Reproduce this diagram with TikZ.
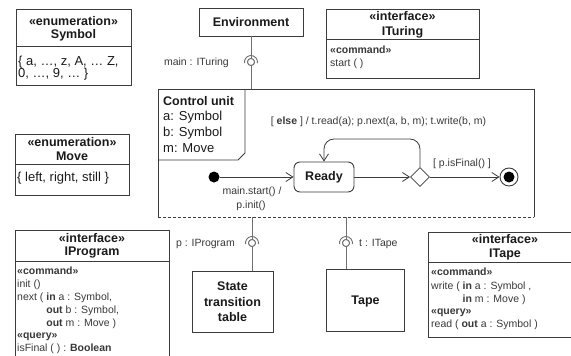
\documentclass[tikz,border=0pt]{standalone}
\usepackage{fontspec}
\setmainfont{Liberation Sans}
\usetikzlibrary{shapes.geometric,arrows.meta}
\definecolor{lineC}{HTML}{3C3C3C}
\definecolor{connC}{HTML}{707070}
\definecolor{txtC}{HTML}{1A1A1A}
\definecolor{lblC}{HTML}{383838}
\begin{document}
\begin{tikzpicture}[x=1pt,y=-1pt,
  box/.style={draw=lineC, line width=0.9pt, inner sep=0pt, outer sep=0pt, anchor=north west},
  divider/.style={draw=lineC, line width=0.9pt},
  ttl/.style={font=\fontsize{12.5}{14}\selectfont\bfseries, text=txtC, inner sep=0pt, text height=11.5pt, text depth=2.5pt},
  big/.style={font=\fontsize{13}{15}\selectfont, text=txtC, inner sep=0pt, anchor=west, text height=12pt, text depth=2.6pt},
  op/.style={font=\fontsize{10.5}{12}\selectfont, text=lblC, inner sep=0pt, anchor=west, text height=9.7pt, text depth=2.1pt},
  kw/.style={op, font=\fontsize{10.5}{12}\selectfont\bfseries},
  lbl/.style={font=\fontsize{10.5}{12}\selectfont, text=lblC, inner sep=0pt, text height=9.7pt, text depth=2.1pt},
  conn/.style={draw=connC, line width=0.9pt},
  ballnode/.style={circle, draw=connC, line width=0.9pt, fill=white, minimum size=7pt, inner sep=0pt},
  trans/.style={draw=lineC, line width=0.8pt, -{Straight Barb[length=7pt,width=9pt]}},
]
\useasboundingbox (0,0) rectangle (571,356);
\path[clip] (0,0) rectangle (571,356);

% ---- enumeration Symbol
\node[box, minimum width=115pt, minimum height=76pt] (sym) at (16,9) {};
\draw[divider] (sym.west |- 0,46) -- (sym.east |- 0,46);
\node[ttl] (symst) at (73.5,21) {«enumeration»};
\node[ttl] (symnm) at (73.5,34) {Symbol};
\node[big] (symv1) at (18,61) {\{ a, …, z, A, … Z,};
\node[big] (symv2) at (18,73) {0, …, 9, … \}};

% ---- enumeration Move
\node[box, minimum width=114pt, minimum height=61pt] (mov) at (15,134) {};
\draw[divider] (mov.west |- 0,164) -- (mov.east |- 0,164);
\node[ttl] (movst) at (72,142) {«enumeration»};
\node[ttl] (movnm) at (72,156) {Move};
\node[big] (movv) at (17,177) {\{ left, right, still \}};

% ---- Environment
\node[box, minimum width=104pt, minimum height=28pt] (env) at (199,8) {};
\node[ttl] (envt) at (env.center) {Environment};

% ---- interface ITuring
\node[box, minimum width=153pt, minimum height=69pt] (itu) at (326,9) {};
\draw[divider] (itu.west |- 0,39) -- (itu.east |- 0,39);
\node[ttl] (itust) at (402.5,16) {«interface»};
\node[ttl] (itunm) at (402.5,31) {ITuring};
\node[kw] (itucmd) at (330,50) {«command»};
\node[op] (itustart) at (330,63) {start ( )};

% ---- Control unit
\node[inner sep=0pt, outer sep=0pt, anchor=north west, minimum width=376pt, minimum height=128pt] (cu) at (158,89) {};
\draw[lineC, line width=0.9pt] (cu.south west) -- (cu.north west) -- (cu.north east) -- (cu.south east);
\draw[lineC, line width=0.9pt, dash pattern=on 3pt off 2pt] (cu.south west) -- (cu.south east);
\draw[lineC, line width=0.9pt] (245,89) -- (245,153) -- (238,160) -- (158,160);
\node[ttl, anchor=west] (cut) at (163,101) {Control unit};
\node[big] (cua) at (163,116) {a: Symbol};
\node[big] (cub) at (163,132) {b: Symbol};
\node[big] (cum) at (163,148) {m: Move};

% ---- state machine
\node[circle, fill=black, minimum size=11pt, inner sep=0pt] (init) at (214,177) {};
\node[draw=lineC, line width=0.9pt, rounded corners=6pt, minimum width=60pt, minimum height=30pt, inner sep=0pt,
      font=\fontsize{12.5}{14}\selectfont\bfseries, text=txtC] (ready) at (324,177) {Ready};
\node[diamond, draw=lineC, line width=0.8pt, fill=white, minimum width=19pt, minimum height=19pt, inner sep=0pt] (dec) at (420,177) {};
\node[circle, draw=lineC, line width=0.9pt, minimum size=18pt, inner sep=0pt] (fin) at (509,177) {};
\node[circle, fill=black, minimum size=11pt, inner sep=0pt] (fincore) at (fin.center) {};
\coordinate (looptop) at (0,139);
\draw[trans] (init) -- (ready);
\draw[trans] (ready) -- (dec);
\draw[trans] (dec) -- (fin);
\draw[trans, rounded corners=10pt] (dec.north) -- (dec.north |- looptop) -- (ready.north |- looptop) -- (ready.north);
\node[lbl] (guard) at (378.5,121) {[ \textbf{else} ] / t.read(a); p.next(a, b, m); t.write(b, m)};
\node[lbl] (gfinal) at (462,163) {[ p.isFinal() ]};
\node[lbl] (trig1) at (252,191) {main.start() /};
\node[lbl] (trig2) at (251,205) {p.init()};

% ---- interface IProgram
\node[box, minimum width=154pt, minimum height=150pt] (ipr) at (15,230) {};
\draw[divider] (ipr.west |- 0,261) -- (ipr.east |- 0,261);
\node[ttl] (iprst) at (92,238) {«interface»};
\node[ttl] (iprnm) at (92,251) {IProgram};
\node[kw] (iprc) at (17,271) {«command»};
\node[op] (ipr1) at (17,284) {init ()};
\node[op] (ipr2) at (17,297) {next ( \textbf{in} a : Symbol,};
\node[op] (ipr3) at (17,310) {\phantom{next ( }\textbf{out} b : Symbol,};
\node[op] (ipr4) at (17,323) {\phantom{next ( }\textbf{out} m : Move )};
\node[kw] (iprq) at (17,335) {«query»};
\node[op] (ipr5) at (17,348) {isFinal ( ) : \textbf{Boolean}};

% ---- State transition table
\node[box, minimum width=81pt, minimum height=61pt] (stt) at (192,271) {};
\node[ttl] (stt1) at (232.5,286) {State};
\node[ttl] (stt2) at (232.5,302) {transition};
\node[ttl] (stt3) at (232.5,317) {table};

% ---- Tape
\node[box, minimum width=78pt, minimum height=62pt] (tape) at (326.5,269) {};
\node[ttl] (tapet) at (tape.center) {Tape};

% ---- interface ITape
\node[box, minimum width=154pt, minimum height=105pt] (ita) at (428,232) {};
\draw[divider] (ita.west |- 0,262) -- (ita.east |- 0,262);
\node[ttl] (itast) at (505,239) {«interface»};
\node[ttl] (itanm) at (505,253) {ITape};
\node[kw] (itac) at (431,272) {«command»};
\node[op] (ita1) at (431,286) {write ( \textbf{in} a : Symbol ,};
\node[op] (ita2) at (431,299) {\phantom{write ( }\textbf{in} m : Move )};
\node[kw] (itaq) at (431,311) {«query»};
\node[op] (ita3) at (431,324) {read ( \textbf{out} a : Symbol )};

% ---- assembly connectors (ball and socket)
\node[ballnode] (s1) at (251,62) {};
\node[ballnode] (s2) at (252,243) {};
\node[ballnode] (s3) at (346,243) {};
\draw[conn] (env.south -| s1) -- (s1) -- (s1 |- cu.north);
\draw[conn] (s2 |- cu.south) -- (s2) -- (s2 |- stt.north);
\draw[conn] (s3 |- cu.south) -- (s3) -- (s3 |- tape.north);
\foreach \s in {s1,s2,s3}{
  \node[ballnode] at (\s.center) {};
  \draw[conn] ([shift={(190:6.5pt)}]\s.center) arc[start angle=190, end angle=-10, radius=6.5pt];
}
\node[lbl, anchor=east] (l1) at (229,62) {main : ITuring};
\node[lbl, anchor=east] (l2) at (235,243) {p : IProgram};
\node[lbl, anchor=west] (l3) at (359,243) {t : ITape};
\end{tikzpicture}
\end{document}
